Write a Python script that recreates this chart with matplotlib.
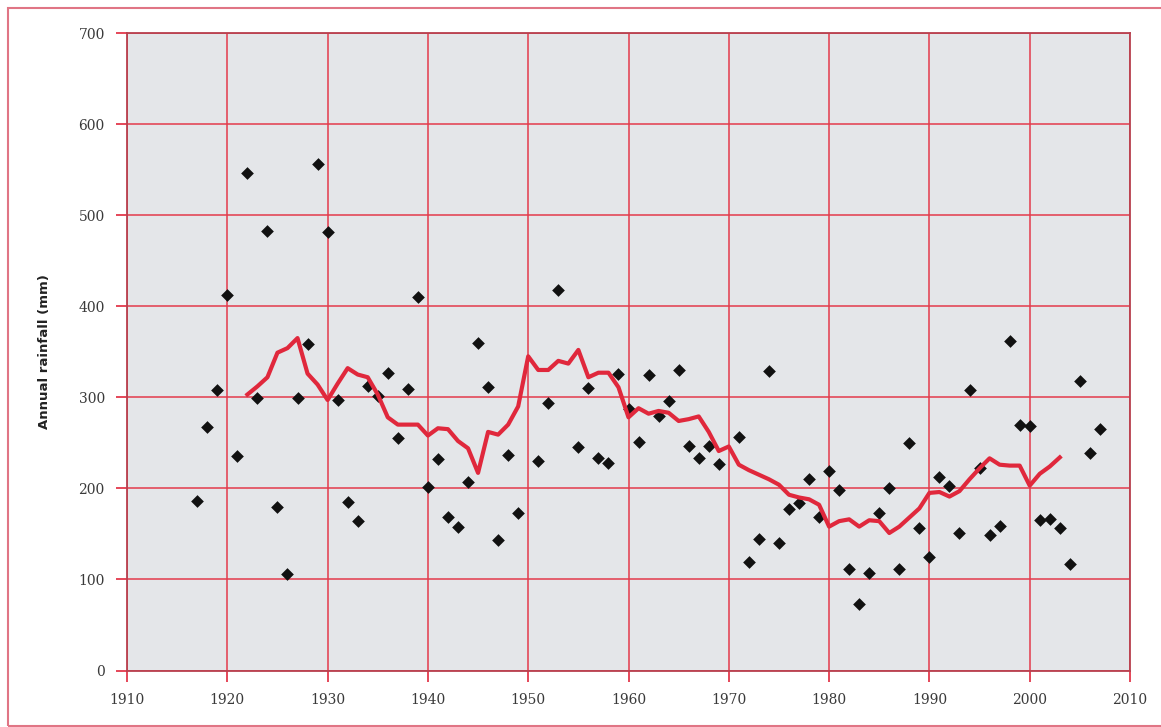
import matplotlib.pyplot as plt
from matplotlib.patches import Rectangle

# annual rainfall points (year, mm)
years = [1917, 1918, 1919, 1920, 1921, 1922, 1923, 1924, 1925, 1926,
         1927, 1928, 1929, 1930, 1931, 1932, 1933, 1934, 1935, 1936,
         1937, 1938, 1939, 1940, 1941, 1942, 1943, 1944, 1945, 1946,
         1947, 1948, 1949, 1951, 1952, 1953, 1955, 1956, 1957, 1958,
         1959, 1960, 1961, 1962, 1963, 1964, 1965, 1966, 1967, 1968,
         1969, 1971, 1972, 1973, 1974, 1975, 1976, 1977, 1978, 1979,
         1980, 1981, 1982, 1983, 1984, 1985, 1986, 1987, 1988, 1989,
         1990, 1991, 1992, 1993, 1994, 1995, 1996, 1997, 1998, 1999,
         2000, 2001, 2002, 2003, 2004, 2005, 2006, 2007]
rainfall = [186, 267, 308, 412, 235, 546, 299, 483, 180, 106,
            299, 359, 556, 481, 297, 185, 164, 312, 301, 327,
            255, 309, 410, 202, 232, 169, 158, 207, 360, 311,
            143, 237, 173, 230, 294, 418, 245, 310, 233, 228,
            326, 287, 251, 324, 279, 296, 330, 246, 233, 246,
            227, 256, 119, 144, 329, 140, 177, 184, 210, 169,
            219, 198, 112, 73, 107, 173, 200, 111, 250, 157,
            125, 213, 203, 151, 308, 222, 149, 159, 362, 270,
            268, 165, 166, 157, 117, 318, 239, 265]

# running mean line
avg_years = list(range(1922, 2004))
avg_rain = [303, 312, 322, 349, 354, 365, 326, 314, 297, 315,
            332, 325, 322, 303, 278, 270, 270, 270, 258, 266,
            265, 252, 244, 217, 262, 259, 270, 290, 345, 330,
            330, 340, 337, 352, 322, 327, 327, 311, 278, 288,
            282, 285, 283, 274, 276, 279, 262, 241, 246, 226,
            220, 215, 210, 204, 193, 190, 188, 182, 158, 164,
            166, 158, 165, 164, 151, 158, 168, 178, 195, 196,
            191, 197, 210, 222, 233, 226, 225, 225, 203, 216,
            224, 234]

red = '#e0283c'
spine_red = '#b8404e'

fig = plt.figure(figsize=(11.61, 7.27), dpi=100)
ax = fig.add_axes([0.1094, 0.0777, 0.8639, 0.8769])
ax.set_facecolor('#e4e6e9')

ax.scatter(years, rainfall, marker='D', s=42, color='#111111', zorder=3, linewidths=0)
ax.plot(avg_years, avg_rain, color=red, lw=3, zorder=4, solid_joinstyle='round')

ax.set_xlim(1910, 2010)
ax.set_ylim(0, 700)
ax.set_xticks(range(1910, 2011, 10))
ax.set_yticks(range(0, 701, 100))
ax.grid(True, color='#e33a4c', lw=1.1)
ax.set_axisbelow(True)
for s in ax.spines.values():
    s.set_color(spine_red)
    s.set_linewidth(1.3)
ax.tick_params(direction='out', length=8, width=1.2, color=red,
               labelcolor='#3a3a3a', labelsize=10, pad=8)
for lab in ax.get_xticklabels() + ax.get_yticklabels():
    lab.set_family('DejaVu Serif')

ax.set_ylabel('Annual rainfall (mm)', fontsize=9.5, fontweight='bold',
              color='#222222', labelpad=20)

# border around the figure
fig.patches.append(Rectangle((0.007, 0.002), 1.05, 0.987, transform=fig.transFigure,
                             fill=False, edgecolor='#e07585', lw=1.5))

fig.savefig('out.png', dpi=100)
